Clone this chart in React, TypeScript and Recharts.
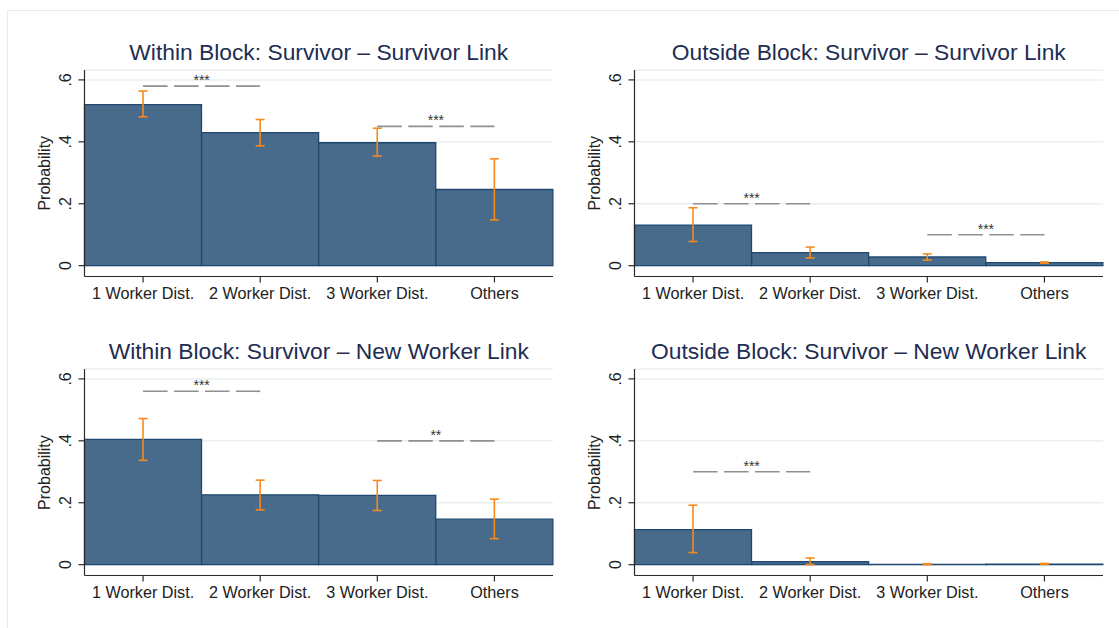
import React from 'react';
import { BarChart, Bar, XAxis, YAxis, CartesianGrid, ErrorBar, ReferenceLine } from 'recharts';

const FONT = '"Liberation Sans", Arial, Helvetica, sans-serif';

const categories = ['1 Worker Dist.', '2 Worker Dist.', '3 Worker Dist.', 'Others'];
const yTicks = [0, 0.2, 0.4, 0.6];
const yTickLabels = ['0', '.2', '.4', '.6'];
const yDomain: [number, number] = [-0.035, 0.632];

// Within Block: Survivor – Survivor Link
const withinSurvivorProb = [0.52, 0.43, 0.397, 0.246];
const withinSurvivorLow = [0.481, 0.387, 0.354, 0.148];
const withinSurvivorHigh = [0.564, 0.472, 0.444, 0.345];
const withinSurvivorSig = [
  { from: 0, to: 1, y: 0.58, stars: '***' },
  { from: 2, to: 3, y: 0.45, stars: '***' },
];

// Outside Block: Survivor – Survivor Link
const outsideSurvivorProb = [0.131, 0.042, 0.028, 0.0097];
const outsideSurvivorLow = [0.078, 0.025, 0.018, 0.008];
const outsideSurvivorHigh = [0.187, 0.06, 0.038, 0.012];
const outsideSurvivorSig = [
  { from: 0, to: 1, y: 0.2, stars: '***' },
  { from: 2, to: 3, y: 0.1, stars: '***' },
];

// Within Block: Survivor – New Worker Link
const withinNewProb = [0.405, 0.2255, 0.2235, 0.147];
const withinNewLow = [0.337, 0.177, 0.175, 0.084];
const withinNewHigh = [0.472, 0.273, 0.272, 0.2115];
const withinNewSig = [
  { from: 0, to: 1, y: 0.56, stars: '***' },
  { from: 2, to: 3, y: 0.4, stars: '**' },
];

// Outside Block: Survivor – New Worker Link
const outsideNewProb = [0.113, 0.0097, 0.0012, 0.002];
const outsideNewLow = [0.039, 0.0, 0.0, 0.001];
const outsideNewHigh = [0.192, 0.0216, 0.003, 0.004];
const outsideNewSig = [{ from: 0, to: 1, y: 0.3, stars: '***' }];

const panelTitles = [
  'Within Block: Survivor – Survivor Link',
  'Outside Block: Survivor – Survivor Link',
  'Within Block: Survivor – New Worker Link',
  'Outside Block: Survivor – New Worker Link',
];

const BAR_FILL = '#486a8b';
const BAR_STROKE = '#1f4970';
const ERR_COLOR = '#f68a1f';
const AXIS_COLOR = '#2a2a2a';
const GRID_COLOR = '#e8eff1';
const TITLE_COLOR = '#1e2d52';

// chart frame geometry (plot area = 84.5px axis gutter on the left)
const CHART_W = 560;
const CHART_H = 276.5;
const Y_AXIS_W = 84.5;
const X_AXIS_H = 30;
const MARGIN = { top: 40, right: 7, bottom: 0, left: 0 };

type Sig = { from: number; to: number; y: number; stars: string };

const YTickLabel = (props: any) => {
  const { x, y, payload } = props;
  const bx = x - 5.5;
  const idx = yTicks.indexOf(payload.value);
  return (
    <text
      x={bx}
      y={y}
      transform={`rotate(-90, ${bx}, ${y})`}
      textAnchor="middle"
      fontSize={16}
      fill="#222"
      fontFamily={FONT}
    >
      {idx >= 0 ? yTickLabels[idx] : String(payload.value)}
    </text>
  );
};

const XTickLabel = (props: any) => {
  const { x, y, payload } = props;
  return (
    <text x={x} y={y + 14} textAnchor="middle" fontSize={16.2} fill="#222" fontFamily={FONT}>
      {payload.value}
    </text>
  );
};

function Panel(props: {
  left: number;
  top: number;
  prob: number[];
  low: number[];
  high: number[];
  sig: Sig[];
}) {
  const { left, top, prob, low, high, sig } = props;
  const data = categories.map((cat, i) => ({
    cat,
    p: prob[i],
    err: [prob[i] - low[i], high[i] - prob[i]],
  }));
  return (
    <div style={{ position: 'absolute', left, top, width: CHART_W, height: CHART_H }}>
      <BarChart
        width={CHART_W}
        height={CHART_H}
        data={data}
        margin={MARGIN}
        barCategoryGap={0}
        barGap={0}
      >
        <CartesianGrid horizontal vertical={false} stroke={GRID_COLOR} strokeWidth={1.5} />
        <XAxis
          dataKey="cat"
          type="category"
          height={X_AXIS_H}
          interval={0}
          tickSize={6}
          tickMargin={2}
          stroke={AXIS_COLOR}
          axisLine={{ stroke: AXIS_COLOR, strokeWidth: 1.2 }}
          tickLine={{ stroke: AXIS_COLOR, strokeWidth: 1.2 }}
          tick={<XTickLabel />}
        />
        <YAxis
          type="number"
          width={Y_AXIS_W}
          domain={yDomain}
          allowDataOverflow
          ticks={yTicks}
          interval={0}
          tickSize={6}
          tickMargin={2}
          stroke={AXIS_COLOR}
          axisLine={{ stroke: AXIS_COLOR, strokeWidth: 1.2 }}
          tickLine={{ stroke: AXIS_COLOR, strokeWidth: 1.2 }}
          tick={<YTickLabel />}
        />
        <Bar
          dataKey="p"
          fill={BAR_FILL}
          stroke={BAR_STROKE}
          strokeWidth={1.3}
          isAnimationActive={false}
        >
          <ErrorBar
            dataKey="err"
            width={4.5}
            stroke={ERR_COLOR}
            strokeWidth={1.6}
            direction="y"
          />
        </Bar>
        {sig.map((s, i) => (
          <ReferenceLine
            key={i}
            segment={[
              { x: categories[s.from], y: s.y },
              { x: categories[s.to], y: s.y },
            ]}
            stroke="#8f8f8f"
            strokeWidth={1.6}
            strokeDasharray="24.5 6.5"
            ifOverflow="visible"
            label={{ value: s.stars, position: 'top', offset: 1, fontSize: 14, fill: '#333', fontFamily: FONT }}
          />
        ))}
      </BarChart>
    </div>
  );
}

const panels = [
  { left: 0, top: 30, prob: withinSurvivorProb, low: withinSurvivorLow, high: withinSurvivorHigh, sig: withinSurvivorSig },
  { left: 550, top: 30, prob: outsideSurvivorProb, low: outsideSurvivorLow, high: outsideSurvivorHigh, sig: outsideSurvivorSig },
  { left: 0, top: 329.3, prob: withinNewProb, low: withinNewLow, high: withinNewHigh, sig: withinNewSig },
  { left: 550, top: 329.3, prob: outsideNewProb, low: outsideNewLow, high: outsideNewHigh, sig: outsideNewSig },
];

export default function App() {
  return (
    <div
      style={{
        position: 'fixed',
        left: 0,
        top: 0,
        width: 1119,
        height: 628,
        overflow: 'hidden',
        background: '#ffffff',
        fontFamily: FONT,
      }}
    >
      <div
        style={{
          position: 'absolute',
          left: 7,
          top: 10,
          width: 1200,
          height: 700,
          border: '1px solid #e4ebee',
        }}
      />
      {panels.map((pn, i) => (
        <Panel key={i} {...pn} />
      ))}
      <svg
        width={1119}
        height={628}
        style={{ position: 'absolute', left: 0, top: 0, pointerEvents: 'none' }}
      >
        {panels.map((pn, i) => {
          const plotLeft = pn.left + Y_AXIS_W;
          const plotRight = pn.left + CHART_W - MARGIN.right;
          const plotTop = pn.top + MARGIN.top;
          const plotBottom = pn.top + CHART_H - X_AXIS_H;
          const cx = (plotLeft + plotRight) / 2;
          const cy = (plotTop + plotBottom) / 2;
          const lx = pn.left + 50;
          return (
            <g key={i}>
              <text
                x={cx}
                y={pn.top + 30}
                textAnchor="middle"
                fontSize={22.8}
                fill={TITLE_COLOR}
                fontFamily={FONT}
              >
                {panelTitles[i]}
              </text>
              <text
                x={lx}
                y={cy}
                transform={`rotate(-90, ${lx}, ${cy})`}
                textAnchor="middle"
                fontSize={16}
                fill="#222"
                fontFamily={FONT}
              >
                Probability
              </text>
            </g>
          );
        })}
      </svg>
    </div>
  );
}
